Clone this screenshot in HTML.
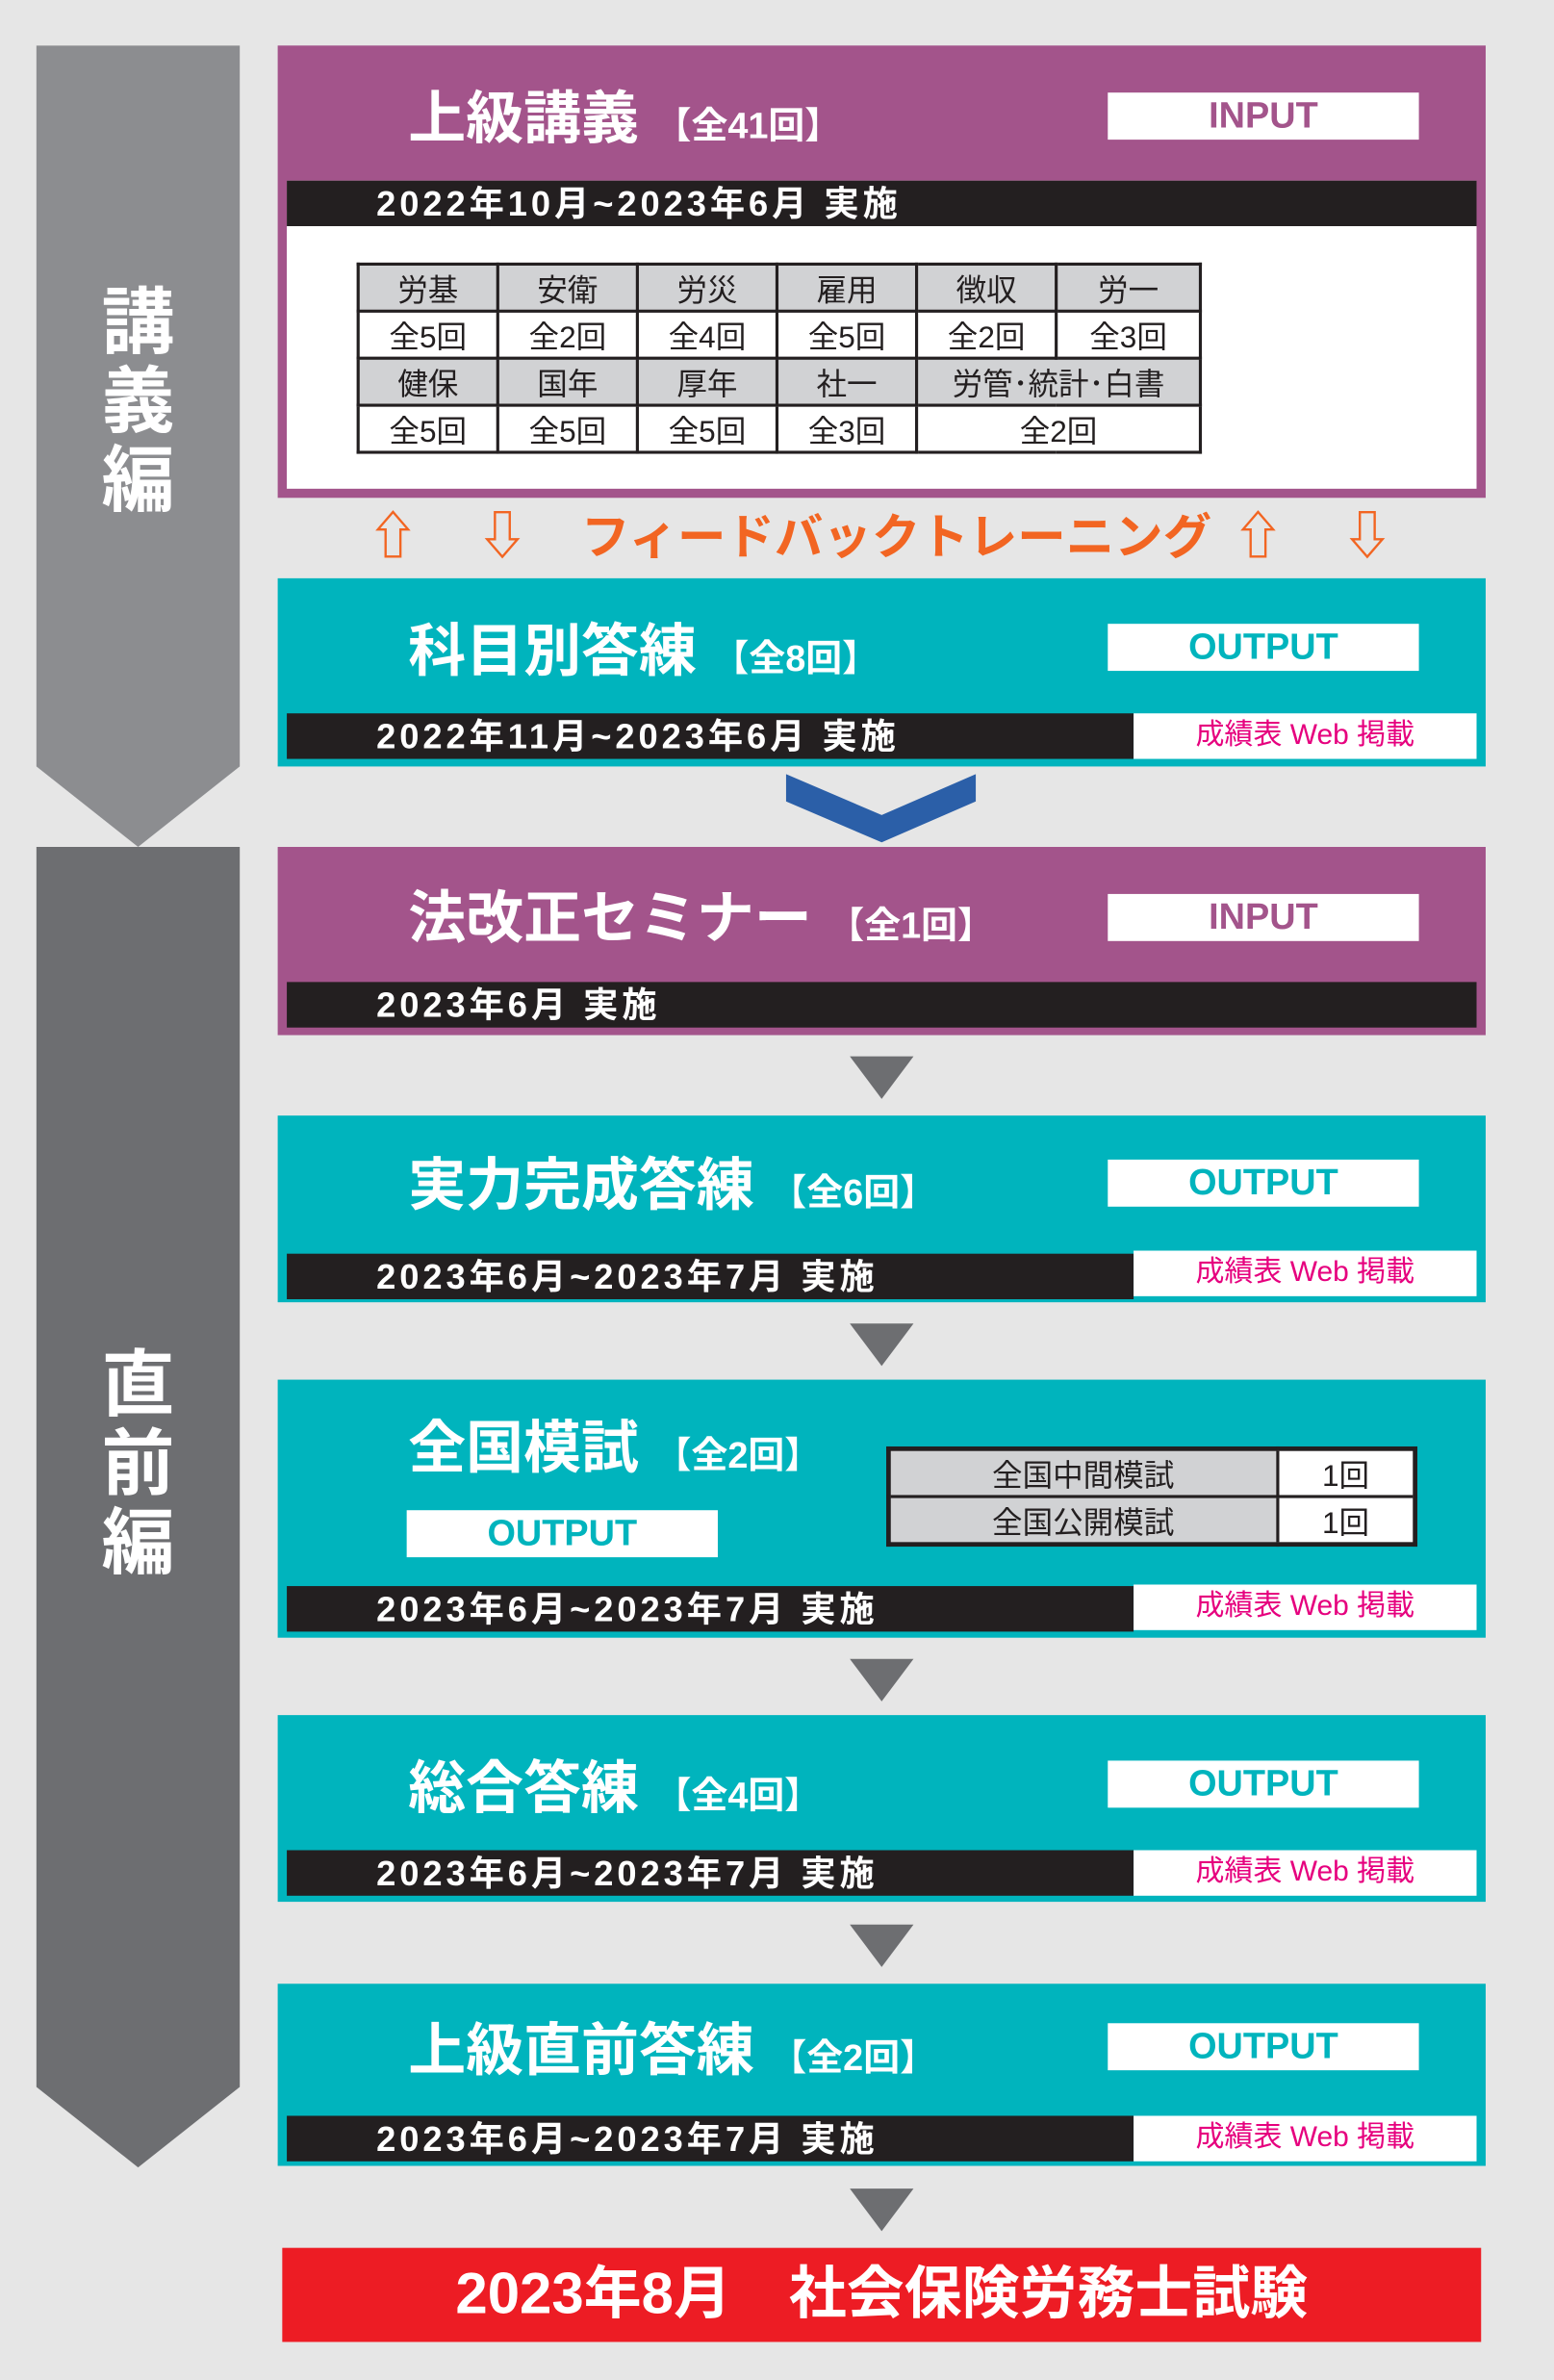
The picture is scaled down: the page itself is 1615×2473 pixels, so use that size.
<!DOCTYPE html>
<html><head><meta charset="utf-8"><style>
*{margin:0;padding:0;box-sizing:border-box}
body{width:1615px;height:2473px;background:#e6e6e6;overflow:hidden;font-family:"Liberation Sans","Noto Sans CJK JP",sans-serif}
#w{position:absolute;left:0;top:0;width:1024px;height:1568px;transform:scale(1.5771);transform-origin:0 0}
.a{position:absolute}
.box{position:absolute;left:183px;width:796px}
.pu{background:#a3548b}.te{background:#00b4bd}
.title{position:absolute;left:86px;color:#fff;font-weight:bold;font-size:38px;white-space:nowrap;line-height:1}
.title small{font-size:24px;font-weight:bold}
.tag{position:absolute;left:547px;width:205px;height:31px;background:#fff;font-weight:bold;font-size:24px;text-align:center;line-height:31px;transform-origin:center}
.band{position:absolute;left:6px;width:558px;height:30px;background:#231f20;color:#fff;font-weight:bold;font-size:23px;letter-spacing:2.5px;line-height:30px;padding-left:59px;white-space:nowrap}
.web{position:absolute;left:564px;width:226px;height:30px;background:#fff;color:#e6007e;font-size:19px;line-height:30px;text-align:center;white-space:nowrap}
.tri{position:absolute;left:560px;width:0;height:0;border-left:21px solid transparent;border-right:21px solid transparent;border-top:28px solid #6d6e71}
table{border-collapse:collapse;table-layout:fixed}
td{border:2px solid #231f20;text-align:center;font-size:20px;height:31px;color:#231f20}
td.g{background:#d1d2d4}
td.w{background:#fff}
.vt{position:absolute;left:0;width:134px;text-align:center;color:#fff;font-weight:bold;font-size:48px;line-height:52px}
.fb{position:absolute;top:334px;color:#f26522;font-weight:bold;font-size:34px;line-height:40px;white-space:nowrap}
</style></head><body><div id="w">
<svg class="a" style="left:0;top:0" width="1024" height="1568">
<polygon points="24,30 158,30 158,505 91,558 24,505" fill="#8c8d90"/>
<polygon points="24,558 158,558 158,1375 91,1428 24,1375" fill="#6d6e71"/>
<polygon points="518,510 581,537 643,510 643,528 581,555 518,528" fill="#2b5fa8"/>
</svg>
<div class="vt a" style="left:24px;top:188px">講<br>義<br>編</div>
<div class="vt a" style="left:24px;top:888px">直<br>前<br>編</div>

<div class="box pu" style="top:30px;height:298px">
<div class="title" style="top:30px">上級講義 <small>【全41回】</small></div>
<div class="tag" style="top:31px;color:#a3548b">INPUT</div>
<div class="a" style="left:6px;top:89px;width:784px;height:203px;background:#fff"></div>
<div class="band" style="top:89px;width:784px">2022年10月~2023年6月 実施</div>
<table class="a" style="left:52px;top:143px;width:555px">
<colgroup><col style="width:92px"><col style="width:92px"><col style="width:92px"><col style="width:92px"><col style="width:92px"><col style="width:95px"></colgroup>
<tr><td class="g">労基</td><td class="g">安衛</td><td class="g">労災</td><td class="g">雇用</td><td class="g">徴収</td><td class="g">労一</td></tr>
<tr><td class="w">全5回</td><td class="w">全2回</td><td class="w">全4回</td><td class="w">全5回</td><td class="w">全2回</td><td class="w">全3回</td></tr>
<tr><td class="g">健保</td><td class="g">国年</td><td class="g">厚年</td><td class="g">社一</td><td class="g" colspan="2">労管･統計･白書</td></tr>
<tr><td class="w">全5回</td><td class="w">全5回</td><td class="w">全5回</td><td class="w">全3回</td><td class="w" colspan="2">全2回</td></tr>
</table>
</div>
<div class="fb" style="left:242px">⇧</div>
<div class="fb" style="left:314px">⇩</div>
<div class="fb" style="left:383px;font-size:32px">フィードバックトレーニング</div>
<div class="fb" style="left:812px">⇧</div>
<div class="fb" style="left:884px">⇩</div>

<div class="box te" style="top:381px;height:124px">
<div class="title" style="top:30px">科目別答練 <small>【全8回】</small></div>
<div class="tag" style="top:30px;color:#00b4bd">OUTPUT</div>
<div class="band" style="top:89px">2022年11月~2023年6月 実施</div>
<div class="web" style="top:89px">成績表 Web 掲載</div>
</div>

<div class="box pu" style="top:558px;height:124px">
<div class="title" style="top:29px">法改正セミナー <small>【全1回】</small></div>
<div class="tag" style="top:31px;color:#a3548b">INPUT</div>
<div class="band" style="top:89px;width:784px">2023年6月 実施</div>
</div>
<div class="tri" style="top:696px"></div>

<div class="box te" style="top:735px;height:123px">
<div class="title" style="top:28px">実力完成答練 <small>【全6回】</small></div>
<div class="tag" style="top:29px;color:#00b4bd">OUTPUT</div>
<div class="band" style="top:91px">2023年6月~2023年7月 実施</div>
<div class="web" style="top:89px">成績表 Web 掲載</div>
</div>
<div class="tri" style="top:872px"></div>

<div class="box te" style="top:909px;height:170px">
<div class="title" style="top:27px">全国模試 <small>【全2回】</small></div>
<div class="tag" style="top:86px;left:85px;color:#00b4bd">OUTPUT</div>
<table class="a" style="left:401px;top:44px;width:350px;border:3px solid #231f20">
<colgroup><col style="width:256px"><col></colgroup>
<tr><td class="g" style="height:30px">全国中間模試</td><td class="w">1回</td></tr>
<tr><td class="g" style="height:30px">全国公開模試</td><td class="w">1回</td></tr>
</table>
<div class="band" style="top:136px">2023年6月~2023年7月 実施</div>
<div class="web" style="top:135px">成績表 Web 掲載</div>
</div>
<div class="tri" style="top:1093px"></div>

<div class="box te" style="top:1130px;height:123px">
<div class="title" style="top:30px">総合答練 <small>【全4回】</small></div>
<div class="tag" style="top:30px;color:#00b4bd">OUTPUT</div>
<div class="band" style="top:89px">2023年6月~2023年7月 実施</div>
<div class="web" style="top:89px">成績表 Web 掲載</div>
</div>
<div class="tri" style="top:1268px"></div>

<div class="box te" style="top:1307px;height:120px">
<div class="title" style="top:26px">上級直前答練 <small>【全2回】</small></div>
<div class="tag" style="top:26px;color:#00b4bd">OUTPUT</div>
<div class="band" style="top:87px">2023年6月~2023年7月 実施</div>
<div class="web" style="top:87px">成績表 Web 掲載</div>
</div>
<div class="tri" style="top:1442px"></div>

<div class="a" style="left:186px;top:1481px;width:790px;height:62px;background:#ed1c24;color:#fff;font-weight:bold;font-size:38px;line-height:62px;text-align:center;white-space:nowrap">2023年8月　社会保険労務士試験</div>
</div></body></html>
